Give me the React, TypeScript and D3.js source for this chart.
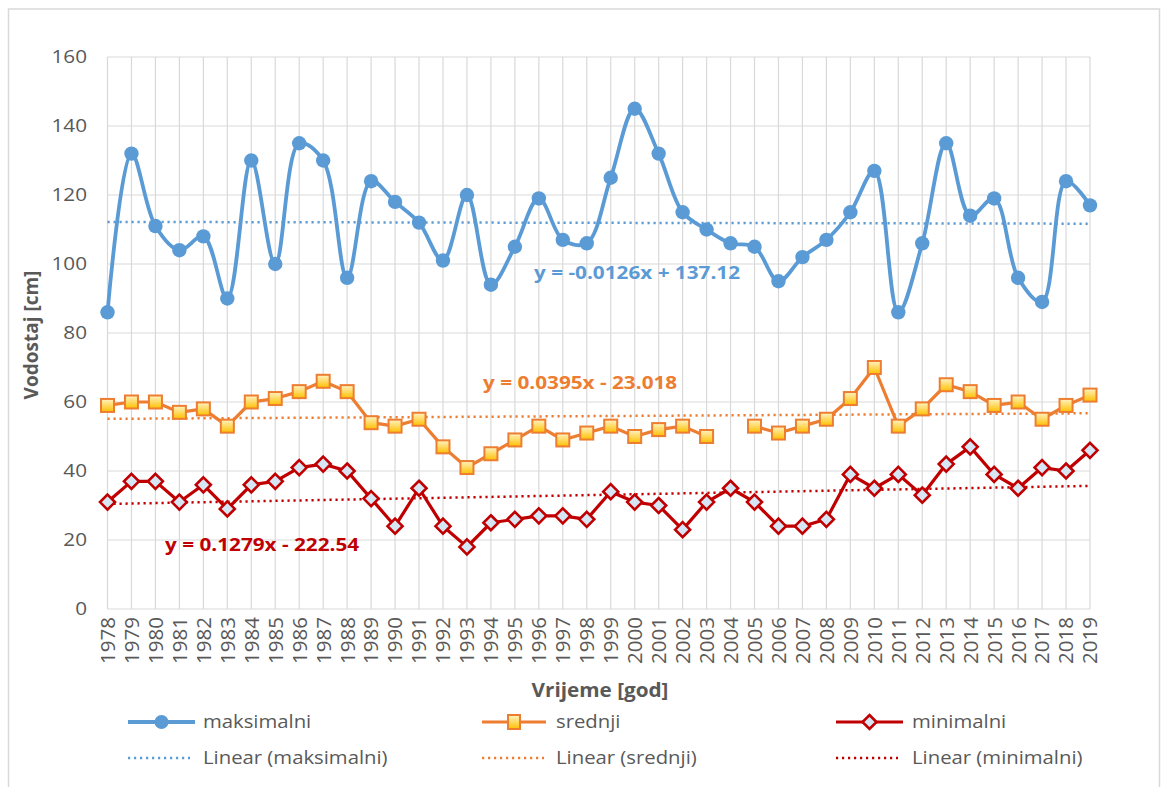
import React from "react";
import * as d3 from "d3";

const years: number[] = [
  1978, 1979, 1980, 1981, 1982, 1983, 1984, 1985, 1986, 1987, 1988, 1989, 1990, 1991,
  1992, 1993, 1994, 1995, 1996, 1997, 1998, 1999, 2000, 2001, 2002, 2003, 2004, 2005,
  2006, 2007, 2008, 2009, 2010, 2011, 2012, 2013, 2014, 2015, 2016, 2017, 2018, 2019,
];
const maksimalni: number[] = [
  86, 132, 111, 104, 108, 90, 130, 100, 135, 130, 96, 124, 118, 112,
  101, 120, 94, 105, 119, 107, 106, 125, 145, 132, 115, 110, 106, 105,
  95, 102, 107, 115, 127, 86, 106, 135, 114, 119, 96, 89, 124, 117,
];
const srednji: (number | null)[] = [
  59, 60, 60, 57, 58, 53, 60, 61, 63, 66, 63, 54, 53, 55,
  47, 41, 45, 49, 53, 49, 51, 53, 50, 52, 53, 50, null, 53,
  51, 53, 55, 61, 70, 53, 58, 65, 63, 59, 60, 55, 59, 62,
];
const minimalni: number[] = [
  31, 37, 37, 31, 36, 29, 36, 37, 41, 42, 40, 32, 24, 35,
  24, 18, 25, 26, 27, 27, 26, 34, 31, 30, 23, 31, 35, 31,
  24, 24, 26, 39, 35, 39, 33, 42, 47, 39, 35, 41, 40, 46,
];
const yTicks: number[] = [0, 20, 40, 60, 80, 100, 120, 140, 160];
// trend equations: y = a * year + b
const trendMax = { a: -0.0126, b: 137.12, label: "y = -0.0126x + 137.12" };
const trendMid = { a: 0.0395, b: -23.018, label: "y = 0.0395x - 23.018" };
const trendMin = { a: 0.1279, b: -222.54, label: "y = 0.1279x - 222.54" };

const BLUE = "#5B9BD5";
const ORANGE = "#ED7D31";
const RED = "#C00000";
const GRID = "#D9D9D9";
const TEXT = "#595959";
const FONT = "'Open Sans', 'Noto Sans', sans-serif";

export default function App() {
  const left = 107.5, right = 1090, top = 57, bottom = 609;
  const x = d3.scaleLinear().domain([years[0], years[years.length - 1]]).range([left, right]);
  const y = d3.scaleLinear().domain([0, 160]).range([bottom, top]);

  const smooth = d3
    .line<number>()
    .x((_, i) => x(years[i]))
    .y((d) => y(d))
    .curve(d3.curveCatmullRom.alpha(0.5));
  const straight = d3
    .line<number | null>()
    .defined((d) => d !== null)
    .x((_, i) => x(years[i]))
    .y((d) => y(d as number));

  const trendLine = (t: { a: number; b: number }) => {
    const x0 = years[0], x1 = years[years.length - 1];
    return `M${x(x0)},${y(t.a * x0 + t.b)}L${x(x1)},${y(t.a * x1 + t.b)}`;
  };

  const diamond = (cx: number, cy: number, r: number) =>
    `M${cx},${cy - r}L${cx + r},${cy}L${cx},${cy + r}L${cx - r},${cy}Z`;

  const dots = "2.2 3.8";

  const legendRows = [
    { y: 722, items: [
      { x0: 128, x1: 195, tx: 203, label: "maksimalni", kind: "max" },
      { x0: 482, x1: 546, tx: 556, label: "srednji", kind: "mid" },
      { x0: 836, x1: 903, tx: 912, label: "minimalni", kind: "min" },
    ] },
    { y: 758, items: [
      { x0: 128, x1: 190, tx: 203, label: "Linear (maksimalni)", kind: "tmax" },
      { x0: 482, x1: 544, tx: 556, label: "Linear (srednji)", kind: "tmid" },
      { x0: 836, x1: 898, tx: 912, label: "Linear (minimalni)", kind: "tmin" },
    ] },
  ];

  const sq = 13;

  return (
    <svg
      width={1161}
      height={787}
      style={{ position: "absolute", left: 0, top: 0, background: "#fff" }}
      fontFamily={FONT}
    >
      <defs>
        <linearGradient id="sqfill" x1="0" y1="0" x2="0" y2="1">
          <stop offset="0%" stopColor="#FFF3C4" />
          <stop offset="100%" stopColor="#FFC000" />
        </linearGradient>
      </defs>
      <rect x={0} y={0} width={1161} height={787} fill="#fff" />
      <rect x={8.5} y={9} width={1151} height={790} fill="none" stroke={GRID} strokeWidth={1.5} />

      {/* grid */}
      {yTicks.map((t) => (
        <line key={"h" + t} x1={left} x2={right} y1={y(t)} y2={y(t)} stroke={GRID} strokeWidth={1.2} />
      ))}
      {years.map((yr) => (
        <line key={"v" + yr} x1={x(yr)} x2={x(yr)} y1={top} y2={bottom} stroke={GRID} strokeWidth={1.2} />
      ))}

      {/* y tick labels */}
      {yTicks.map((t) => (
        <text
          key={"yl" + t}
          transform={`translate(87,${y(t)}) scale(1.12,1)`}
          dy="0.35em"
          textAnchor="end"
          fontSize={18.5}
          fill={TEXT}
        >
          {t}
        </text>
      ))}
      {/* x tick labels */}
      {years.map((yr) => (
        <text
          key={"xl" + yr}
          transform={`translate(${x(yr)},617) rotate(-90)`}
          textAnchor="end"
          dy="0.36em"
          fontSize={20.5}
          fill={TEXT}
        >
          {yr}
        </text>
      ))}

      {/* axis titles */}
      <text transform="translate(38,335) rotate(-90)" textAnchor="middle" fontSize={19} fontWeight="bold" fill={TEXT}>
        Vodostaj [cm]
      </text>
      <text transform="translate(600,697) scale(1.09,1)" textAnchor="middle" fontSize={19} fontWeight="bold" fill={TEXT}>
        Vrijeme [god]
      </text>

      {/* trend lines */}
      <path d={trendLine(trendMax)} stroke={BLUE} strokeWidth={2.5} strokeDasharray={dots} fill="none" />
      <path d={trendLine(trendMid)} stroke={ORANGE} strokeWidth={2.5} strokeDasharray={dots} fill="none" />
      <path d={trendLine(trendMin)} stroke={RED} strokeWidth={2.5} strokeDasharray={dots} fill="none" />

      {/* series: minimalni */}
      <path d={straight(minimalni) || ""} stroke={RED} strokeWidth={3.2} fill="none" strokeLinejoin="round" />
      {minimalni.map((v, i) => (
        <path key={"mn" + i} d={diamond(x(years[i]), y(v), 7.5)} fill="#D6E6F4" stroke={RED} strokeWidth={2.6} />
      ))}

      {/* series: srednji */}
      <path d={straight(srednji) || ""} stroke={ORANGE} strokeWidth={3.2} fill="none" strokeLinejoin="round" />
      {srednji.map((v, i) =>
        v === null ? null : (
          <rect
            key={"sr" + i}
            x={x(years[i]) - sq / 2}
            y={y(v) - sq / 2}
            width={sq}
            height={sq}
            fill="url(#sqfill)"
            stroke={ORANGE}
            strokeWidth={2}
          />
        )
      )}

      {/* series: maksimalni */}
      <path d={smooth(maksimalni) || ""} stroke={BLUE} strokeWidth={3.8} fill="none" strokeLinejoin="round" />
      {maksimalni.map((v, i) => (
        <circle key={"mx" + i} cx={x(years[i])} cy={y(v)} r={7.2} fill={BLUE} />
      ))}

      {/* trend equations */}
      <text transform="translate(534,279) scale(1.22,1)" fontSize={17} fontWeight="bold" fill={BLUE}>{trendMax.label}</text>
      <text transform="translate(483,389) scale(1.22,1)" fontSize={17} fontWeight="bold" fill={ORANGE}>{trendMid.label}</text>
      <text transform="translate(165,551) scale(1.22,1)" fontSize={17} fontWeight="bold" fill={RED}>{trendMin.label}</text>

      {/* legend */}
      {legendRows.map((row) =>
        row.items.map((it) => {
          const cx = (it.x0 + it.x1) / 2;
          const cy = row.y;
          let sample: React.ReactNode = null;
          if (it.kind === "max") {
            sample = (
              <g>
                <line x1={it.x0} x2={it.x1} y1={cy} y2={cy} stroke={BLUE} strokeWidth={3.8} />
                <circle cx={cx} cy={cy} r={7} fill={BLUE} />
              </g>
            );
          } else if (it.kind === "mid") {
            sample = (
              <g>
                <line x1={it.x0} x2={it.x1} y1={cy} y2={cy} stroke={ORANGE} strokeWidth={3.2} />
                <rect x={cx - 6} y={cy - 7} width={12} height={14} fill="url(#sqfill)" stroke={ORANGE} strokeWidth={2} />
              </g>
            );
          } else if (it.kind === "min") {
            sample = (
              <g>
                <line x1={it.x0} x2={it.x1} y1={cy} y2={cy} stroke={RED} strokeWidth={3.2} />
                <path d={diamond(cx, cy, 7)} fill="#D6E6F4" stroke={RED} strokeWidth={2.6} />
              </g>
            );
          } else {
            const col = it.kind === "tmax" ? BLUE : it.kind === "tmid" ? ORANGE : RED;
            sample = (
              <line x1={it.x0} x2={it.x1} y1={cy} y2={cy} stroke={col} strokeWidth={2.5} strokeDasharray={dots} />
            );
          }
          return (
            <g key={it.label}>
              {sample}
              <text
                transform={`translate(${it.tx},${cy}) scale(1.16,1)`}
                dy="0.35em"
                fontSize={17.5}
                fill={TEXT}
              >
                {it.label}
              </text>
            </g>
          );
        })
      )}
    </svg>
  );
}
